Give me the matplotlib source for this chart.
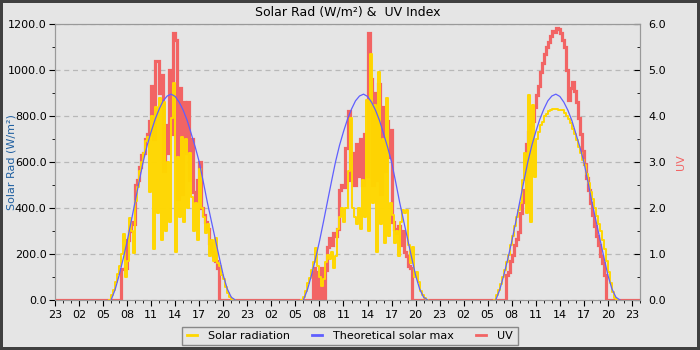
import matplotlib
matplotlib.use('Agg')
import matplotlib.pyplot as plt
import matplotlib.dates as dates
from matplotlib.ticker import MultipleLocator, FormatStrFormatter
from matplotlib.lines import Line2D
import numpy as np
import pandas as pd

# --- data (15 min samples) ---
days = ['2024-06-04', '2024-06-05', '2024-06-06']
range_start = '2024-06-03 23:00'
range_end = '2024-06-07 00:00'

solar_start = '05:45'
solar_day1 = [0, 20, 45, 80, 115, 150, 200, 285, 100, 170, 355, 300, 205, 430, 490, 560,
              600, 640, 690, 710, 470, 800, 220, 840, 380, 880, 260, 860, 300, 600, 340, 790,
              945, 210, 620, 360, 710, 340, 700, 400, 640, 450, 300, 420, 260, 570, 400, 360,
              290, 330, 190, 260, 170, 270, 160, 150, 110, 90, 55, 30, 12, 4, 0]
solar_day2 = [0, 15, 40, 75, 95, 130, 165, 225, 150, 100, 60, 90, 165, 195, 180, 210,
              140, 190, 310, 360, 400, 340, 400, 560, 790, 400, 360, 330, 400, 310, 520, 360,
              870, 300, 1070, 420, 850, 210, 990, 330, 700, 250, 880, 280, 420, 370, 250, 300,
              190, 340, 390, 380, 390, 240, 160, 230, 100, 120, 80, 40, 20, 8, 0]
solar_day3 = [0, 20, 45, 70, 100, 130, 165, 195, 240, 280, 320, 360, 390, 420, 520, 640,
              380, 890, 340, 850, 535, 700, 730, 760, 775, 800, 810, 820, 825, 830, 830, 832,
              828, 828, 825, 815, 800, 785, 770, 745, 720, 695, 665, 640, 610, 585, 550, 510,
              470, 440, 400, 365, 330, 300, 260, 220, 170, 120, 75, 35, 10, 0]

uv_start = '07:15'
uv_day1 = [0.68, 0.68, 0.70, 1.30, 1.50, 1.70, 1.65, 2.50, 2.60, 2.90, 3.15, 3.20, 3.50,
           3.60, 3.90, 4.65, 3.50, 5.20, 5.20, 4.50, 4.90, 2.80, 3.80, 3.20, 5.00, 3.60,
           5.80, 5.65, 2.20, 4.60, 2.30, 4.30, 3.20, 4.30, 2.60, 3.50, 2.35, 2.15, 2.60,
           3.00, 2.00, 1.85, 1.70, 1.55, 1.25, 1.05, 0.95, 0.85, 0.70, 0.00]
uv_day2 = [0.70, 0.00, 0.60, 0.00, 0.70, 0.00, 0.65, 1.15, 1.35, 1.20, 1.45, 1.40, 1.55,
           2.40, 2.50, 2.45, 3.30, 4.10, 2.60, 3.20, 2.50, 3.40, 2.70, 3.50, 2.50, 3.60,
           2.70, 5.80, 4.80, 2.50, 4.50, 2.60, 4.70, 2.30, 4.20, 2.80, 3.90, 3.10, 3.70,
           1.70, 1.55, 1.45, 1.60, 1.20, 1.50, 1.05, 0.95, 0.75, 0.70, 0.00]
uv_day3 = [0.54, 0.60, 0.85, 0.97, 1.20, 1.33, 1.48, 1.90, 2.13, 2.40, 3.40, 3.65, 3.80,
           3.90, 4.20, 4.45, 4.65, 4.95, 5.15, 5.35, 5.50, 5.60, 5.75, 5.85, 5.82, 5.92,
           5.90, 5.80, 5.65, 5.50, 5.00, 4.35, 4.60, 4.75, 4.55, 4.30, 3.95, 3.60, 3.25,
           2.95, 2.65, 2.40, 2.10, 1.85, 1.60, 1.40, 1.20, 0.95, 0.80, 0.55, 0.00]

# theoretical max, every 30 min from 06:00 (same curve each day)
theory_start = '06:00'
theory_max = [0, 45, 107, 178, 255, 340, 428, 515, 600, 672, 732, 786, 830, 866, 887, 895,
              885, 860, 825, 780, 723, 665, 600, 515, 426, 345, 265, 185, 107, 48, 12, 0]

solar_days = [solar_day1, solar_day2, solar_day3]
uv_days = [uv_day1, uv_day2, uv_day3]

# --- build series ---
full = pd.date_range(range_start, range_end, freq='15min')
uv = pd.Series(0.0, index=full)
solar = pd.Series(np.nan, index=full)
for day, s_vals, u_vals in zip(days, solar_days, uv_days):
    idx = pd.date_range(f'{day} {solar_start}', periods=len(s_vals), freq='15min')
    solar.loc[idx] = s_vals
    idx = pd.date_range(f'{day} {uv_start}', periods=len(u_vals), freq='15min')
    uv.loc[idx] = u_vals

BG = '#e5e5e5'
C_SOLAR = '#ffd700'
C_THEORY = '#5f5fff'
C_UV = '#f26464'

fig = plt.figure(figsize=(7, 3.5), dpi=100, facecolor=BG, edgecolor='#404040', linewidth=3)
ax1 = fig.add_axes([55/700, 1-300/350, 585/700, 276/350])
ax2 = ax1.twinx()
ax1.set_zorder(ax2.get_zorder() + 1)
ax1.patch.set_visible(False)
ax2.patch.set_visible(True)
ax2.patch.set_facecolor(BG)

# UV underneath
ax2.plot(uv.index, uv.values, color=C_UV, lw=2.3, drawstyle='steps-post', solid_joinstyle='miter')
ax1.plot(solar.index, solar.values, color=C_SOLAR, lw=1.4, drawstyle='steps-post')
for day in days:
    idx = pd.date_range(f'{day} {theory_start}', periods=len(theory_max), freq='30min')
    ax1.plot(idx, theory_max, color=C_THEORY, lw=0.9)

ax1.set_xlim(pd.Timestamp(range_start), pd.Timestamp(range_end))
ax1.set_ylim(0, 1200)
ax2.set_ylim(0, 6)

ax1.xaxis.set_major_locator(dates.HourLocator(byhour=range(2, 24, 3)))
ax1.xaxis.set_minor_locator(dates.HourLocator())
ax1.xaxis.set_major_formatter(dates.DateFormatter('%H'))
ax1.yaxis.set_major_locator(MultipleLocator(200))
ax1.yaxis.set_minor_locator(MultipleLocator(100))
ax1.yaxis.set_major_formatter(FormatStrFormatter('%.1f'))
ax2.yaxis.set_major_locator(MultipleLocator(1))
ax2.yaxis.set_minor_locator(MultipleLocator(0.5))
ax2.yaxis.set_major_formatter(FormatStrFormatter('%.1f'))

ax2.grid(True, which='major', axis='both', color='#b8b8b8', linestyle=(0, (4, 3)), lw=0.9)

for ax in (ax1, ax2):
    for sp in ax.spines.values():
        sp.set_color('#999999')
ax1.tick_params(axis='x', which='major', direction='out', length=4, labelsize=8, pad=3)
ax1.tick_params(axis='x', which='minor', direction='out', length=2.5)
ax1.tick_params(axis='y', which='major', direction='out', length=4, labelsize=8, pad=2)
ax1.tick_params(axis='y', which='minor', direction='out', length=2)
ax2.tick_params(axis='y', which='major', direction='in', length=4, labelsize=8, pad=6)
ax2.tick_params(axis='y', which='minor', direction='in', length=2.5)

ax1.set_ylabel('Solar Rad (W/m²)', fontsize=8, color='#1f5fa0')
ax1.yaxis.set_label_coords(-0.066, 0.5)
ax2.set_ylabel('UV', fontsize=8, color=C_UV)
ax2.yaxis.set_label_coords(1.061, 0.5)

fig.text(0.497, 1-12/350, 'Solar Rad (W/m²) &  UV Index', ha='center', va='center', fontsize=9)

handles = [Line2D([], [], color=C_SOLAR, lw=2),
           Line2D([], [], color=C_THEORY, lw=2),
           Line2D([], [], color=C_UV, lw=2)]
leg = fig.legend(handles, ['Solar radiation', 'Theoretical solar max', 'UV'],
                 loc='center', bbox_to_anchor=(0.5, 1-336/350), ncol=3, fontsize=8,
                 frameon=True, fancybox=False, handlelength=0.9, handletextpad=1.0,
                 columnspacing=2.0, borderpad=0.4)
leg.get_frame().set_edgecolor('#888888')
leg.get_frame().set_facecolor(BG)
leg.get_frame().set_alpha(1)

fig.savefig('out.png', dpi=100, facecolor=BG, edgecolor=fig.get_edgecolor())
